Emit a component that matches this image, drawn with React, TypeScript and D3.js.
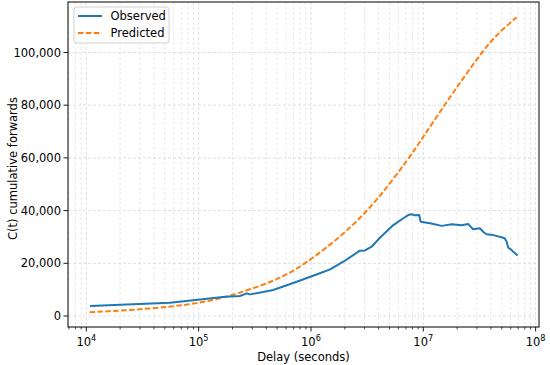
import React from "react";
import * as d3 from "d3";

const obsX = [1.08e4, 5.56e4, 1.03e5, 1.72e5, 2.33e5, 2.68e5, 2.87e5, 4.61e5, 7.46e5, 1.2e6, 1.48e6, 1.94e6, 2.73e6, 3.03e6, 3.47e6, 4.11e6, 5.41e6, 6.64e6, 7.4e6, 7.88e6, 8.43e6, 9.2e6, 9.47e6, 1.15e7, 1.46e7, 1.79e7, 2.19e7, 2.51e7, 2.65e7, 2.78e7, 3.19e7, 3.45e7, 3.66e7, 4.2e7, 4.98e7, 5.3e7, 5.52e7, 5.7e7, 6.0e7, 6.32e7, 6.92e7];
const obsY = [3800, 5050, 6300, 7300, 7600, 8600, 8200, 9870, 13000, 16200, 17700, 20600, 24800, 24900, 26300, 29700, 34500, 37100, 38400, 38600, 38200, 38300, 35800, 35200, 34200, 34800, 34400, 34900, 33800, 32900, 33300, 31800, 31000, 30700, 29900, 29500, 28200, 25900, 25300, 24400, 23000];

const predX = [1.07e4, 2.81e4, 5.56e4, 9.62e4, 1.55e5, 2.18e5, 3.7e5, 5.3e5, 7.46e5, 1.05e6, 1.81e6, 2.73e6, 4.11e6, 7.35e6, 1e7, 1.51e7, 2.12e7, 2.99e7, 3.93e7, 5.15e7, 6.78e7];
const predY = [1400, 2400, 3500, 4800, 6600, 8460, 11700, 14400, 17900, 22100, 30000, 37100, 45300, 59500, 68000, 79400, 88500, 97400, 104000, 109000, 113400];

const yTicks = [0, 20000, 40000, 60000, 80000, 100000];
const xDecades = [4, 5, 6, 7, 8];
const legendLabels = ["Observed", "Predicted"];

const W = 550, H = 365;
const L = 68, R = 539, T = 2, B = 327;
const FONT = "DejaVu Sans, sans-serif";
const FS = 11.5;

export default function App() {
  const x = d3.scaleLog().domain([Math.pow(10, 3.837), Math.pow(10, 8.03)]).range([L, R]);
  const y = d3.scaleLinear().domain([-4175, 119165]).range([B, T]);

  const minor: number[] = [];
  for (let e = 3; e <= 8; e++) {
    for (let m = 2; m <= 9; m++) {
      const v = m * Math.pow(10, e);
      if (x(v) >= L && x(v) <= R) minor.push(v);
    }
  }
  const majors = xDecades.map((e) => Math.pow(10, e));

  const obsPath = d3.line<number>().x((_, i) => x(obsX[i])).y((d) => y(d))(obsY) || "";
  const predPath = d3.line<number>().curve(d3.curveBasis).x((_, i) => x(predX[i])).y((d) => y(d))(predY) || "";
  const fmt = d3.format(",");

  return (
    <svg width={W} height={H} style={{ position: "absolute", left: 0, top: 0, background: "#fff" }} fontFamily={FONT}>
      <rect width={W} height={H} fill="#fff" />
      <defs>
        <clipPath id="clip"><rect x={L} y={T} width={R - L} height={B - T} /></clipPath>
      </defs>
      <g stroke="#d8d8d8" strokeWidth={0.8} strokeDasharray="3,2" fill="none">
        {minor.map((v, i) => (
          <line key={"mg" + i} x1={x(v)} x2={x(v)} y1={T} y2={B} stroke="#e3e3e3" />
        ))}
        {majors.map((v, i) => (
          <line key={"Mg" + i} x1={x(v)} x2={x(v)} y1={T} y2={B} />
        ))}
        {yTicks.map((v, i) => (
          <line key={"yg" + i} x1={L} x2={R} y1={y(v)} y2={y(v)} />
        ))}
      </g>
      <g clipPath="url(#clip)" fill="none" strokeLinejoin="round">
        <path d={predPath} stroke="#ff7f0e" strokeWidth={2} strokeDasharray="5.5,2.4" />
        <path d={obsPath} stroke="#1f77b4" strokeWidth={2} />
      </g>
      <rect x={L} y={T} width={R - L} height={B - T} fill="none" stroke="#000" strokeWidth={1} />
      {minor.map((v, i) => (
        <line key={"mt" + i} x1={x(v)} x2={x(v)} y1={B} y2={B + 2.5} stroke="#000" strokeWidth={0.7} />
      ))}
      {xDecades.map((e, i) => {
        const px = x(Math.pow(10, e));
        return (
          <g key={"xt" + i}>
            <line x1={px} x2={px} y1={B} y2={B + 4.5} stroke="#000" strokeWidth={0.9} />
            <text x={px} y={B + 19} textAnchor="middle" fontSize={FS} fill="#000">
              10<tspan dy={-5} fontSize={8.2}>{e}</tspan>
            </text>
          </g>
        );
      })}
      {yTicks.map((v, i) => (
        <g key={"yt" + i}>
          <line x1={L - 4.5} x2={L} y1={y(v)} y2={y(v)} stroke="#000" strokeWidth={0.9} />
          <text x={L - 7} y={y(v)} dy="0.35em" textAnchor="end" fontSize={FS} fill="#000">
            {fmt(v)}
          </text>
        </g>
      ))}
      <text x={(L + R) / 2} y={360.5} textAnchor="middle" fontSize={FS} fill="#000">Delay (seconds)</text>
      <text transform={`translate(17,${(T + B) / 2 + 4}) rotate(-90)`} textAnchor="middle" fontSize={FS} fill="#000">
        C(t) cumulative forwards
      </text>
      <g>
        <rect x={74} y={7} width={95} height={36} rx={2.5} fill="#fff" fillOpacity={0.8} stroke="#cccccc" strokeWidth={0.9} />
        <line x1={78} x2={102} y1={16} y2={16} stroke="#1f77b4" strokeWidth={2} />
        <line x1={78} x2={102} y1={33} y2={33} stroke="#ff7f0e" strokeWidth={2} strokeDasharray="5.5,2.4" />
        <text x={110.5} y={16} dy="0.35em" fontSize={FS} fill="#000">{legendLabels[0]}</text>
        <text x={110.5} y={33} dy="0.35em" fontSize={FS} fill="#000">{legendLabels[1]}</text>
      </g>
    </svg>
  );
}
